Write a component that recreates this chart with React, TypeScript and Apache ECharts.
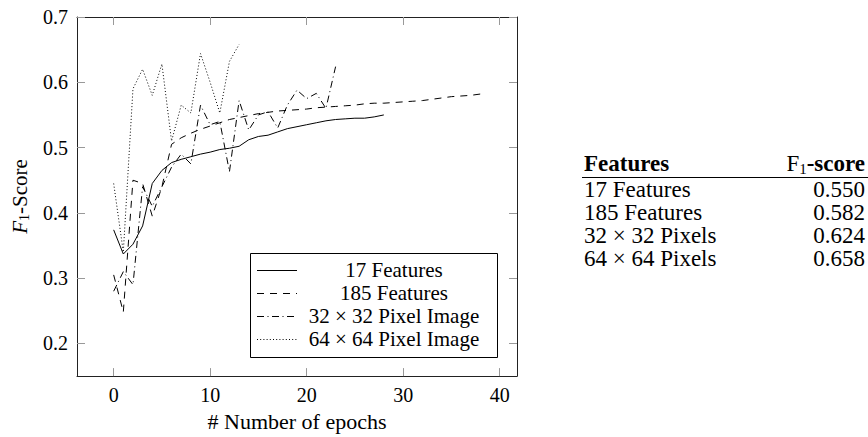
import React, { useEffect, useRef } from "react";
import * as echarts from "echarts";

// ---- data ----
const f17 = [0.374, 0.337, 0.352, 0.38, 0.445, 0.465, 0.477, 0.482, 0.486, 0.49, 0.493, 0.497, 0.499, 0.502, 0.512, 0.517, 0.519, 0.524, 0.529, 0.532, 0.535, 0.538, 0.541, 0.543, 0.544, 0.545, 0.545, 0.547, 0.55];
const f185 = [0.305, 0.248, 0.45, 0.445, 0.395, 0.44, 0.505, 0.515, 0.522, 0.528, 0.533, 0.538, 0.543, 0.546, 0.549, 0.552, 0.554, 0.556, 0.557, 0.558, 0.559, 0.561, 0.562, 0.563, 0.564, 0.565, 0.567, 0.568, 0.568, 0.569, 0.57, 0.571, 0.572, 0.574, 0.576, 0.578, 0.579, 0.58, 0.582];
const px32 = [0.28, 0.31, 0.29, 0.44, 0.41, 0.44, 0.47, 0.49, 0.475, 0.565, 0.535, 0.54, 0.463, 0.572, 0.527, 0.55, 0.555, 0.53, 0.565, 0.588, 0.575, 0.583, 0.56, 0.624];
const px64 = [0.445, 0.34, 0.59, 0.62, 0.58, 0.628, 0.51, 0.565, 0.553, 0.644, 0.6, 0.553, 0.632, 0.658];

const seriesNames = ["17 Features", "185 Features", "32 \u00d7 32 Pixel Image", "64 \u00d7 64 Pixel Image"];
const xTicks = [0, 10, 20, 30, 40];
const yTicks = [0.2, 0.3, 0.4, 0.5, 0.6, 0.7];

const tableRows = ["17 Features", "185 Features", "32 \u00d7 32 Pixels", "64 \u00d7 64 Pixels"];
const tableScores = ["0.550", "0.582", "0.624", "0.658"];

const FONT = "Liberation Serif";
const DASHES: (number[] | "solid")[] = ["solid", [7, 6], [7, 3.5, 1, 3.5], [1, 2.2]];

function toPoints(arr: number[]) {
  return arr.map((v, i) => [i, v]);
}

export default function App() {
  const ref = useRef<HTMLDivElement>(null);
  useEffect(() => {
    if (!ref.current) return;
    const chart = echarts.init(ref.current, undefined, { renderer: "svg" });
    const allData = [f17, f185, px32, px64];

    const legendLeft = 250, legendTop = 253, legendW = 247, legendH = 104;
    const rowY = [270, 293, 316, 339];
    const graphics: any[] = [
      {
        type: "rect",
        z: 100,
        shape: { x: legendLeft + 0.5, y: legendTop + 0.5, width: legendW, height: legendH },
        style: { fill: "#fff", stroke: "#000", lineWidth: 1 },
      },
    ];
    seriesNames.forEach((n, i) => {
      const d = DASHES[i];
      graphics.push({
        type: "line",
        z: 101,
        shape: { x1: 257, y1: rowY[i] + 0.5, x2: 297, y2: rowY[i] + 0.5 },
        style: { stroke: "#000", lineWidth: 1, lineDash: d === "solid" ? null : d },
      });
      graphics.push({
        type: "text",
        z: 101,
        x: 394,
        y: rowY[i],
        style: { text: n, fontFamily: FONT, fontSize: 21, fill: "#000", textAlign: "center", textVerticalAlign: "middle" },
      });
    });

    // table
    const tLeft = 584, tRight = 865;
    graphics.push({
      type: "text",
      x: tLeft,
      y: 163,
      style: { text: "Features", fontFamily: FONT, fontSize: 23, fontWeight: "bold", fill: "#000", textAlign: "left", textVerticalAlign: "middle" },
    });
    graphics.push({
      type: "text",
      x: tRight,
      y: 163,
      style: {
        text: "{r|F}{s|1}{b|-score}",
        textAlign: "right",
        textVerticalAlign: "middle",
        fill: "#000",
        rich: {
          r: { fontFamily: FONT, fontSize: 23, fill: "#000", lineHeight: 26 },
          s: { fontFamily: FONT, fontSize: 15, fill: "#000", lineHeight: 16, verticalAlign: "bottom" },
          b: { fontFamily: FONT, fontSize: 23, fontWeight: "bold", fill: "#000", lineHeight: 26 },
        },
      },
    });
    graphics.push({
      type: "line",
      shape: { x1: 582, y1: 177.5, x2: 868, y2: 177.5 },
      style: { stroke: "#000", lineWidth: 1.2 },
    });
    tableRows.forEach((r, i) => {
      const y = 189 + i * 23;
      graphics.push({
        type: "text",
        x: tLeft,
        y,
        style: { text: r, fontFamily: FONT, fontSize: 23, fill: "#000", textAlign: "left", textVerticalAlign: "middle" },
      });
      graphics.push({
        type: "text",
        x: tRight,
        y,
        style: { text: tableScores[i], fontFamily: FONT, fontSize: 23, fill: "#000", textAlign: "right", textVerticalAlign: "middle" },
      });
    });

    const axisLine = { show: true, onZero: false, lineStyle: { color: "#222", width: 1 } };
    const tick = { show: true, inside: true, length: 8, lineStyle: { color: "#999", width: 1 } };

    chart.setOption({
      animation: false,
      backgroundColor: "#fff",
      textStyle: { fontFamily: FONT },
      grid: { left: 77, top: 17, right: 351, bottom: 54, containLabel: false },
      xAxis: [
        {
          type: "value",
          min: -3.8,
          max: 41.8,
          position: "bottom",
          axisLine,
          axisTick: { ...tick, customValues: xTicks },
          axisLabel: { customValues: xTicks, color: "#000", fontFamily: FONT, fontSize: 20, margin: 9 },
          splitLine: { show: false },
          name: "# Number of epochs",
          nameLocation: "middle",
          nameGap: 33,
          nameTextStyle: { color: "#000", fontFamily: FONT, fontSize: 22 },
        },
        {
          type: "value",
          min: -3.8,
          max: 41.8,
          position: "top",
          axisLine,
          axisTick: { ...tick, customValues: xTicks },
          axisLabel: { show: false },
          splitLine: { show: false },
        },
      ],
      yAxis: [
        {
          type: "value",
          min: 0.15,
          max: 0.7,
          position: "left",
          axisLine,
          axisTick: { ...tick, customValues: yTicks },
          axisLabel: {
            customValues: yTicks,
            color: "#000",
            fontFamily: FONT,
            fontSize: 20,
            margin: 9,
            formatter: (v: number) => v.toFixed(1),
          },
          splitLine: { show: false },
          name: "{i|F}{s|1}{r|-Score}",
          nameLocation: "middle",
          nameGap: 46,
          nameRotate: 90,
          nameTextStyle: {
            color: "#000",
            fontFamily: FONT,
            rich: {
              i: { fontFamily: FONT, fontSize: 21, fontStyle: "italic", color: "#000", lineHeight: 22 },
              s: { fontFamily: FONT, fontSize: 14, color: "#000", lineHeight: 14, verticalAlign: "bottom" },
              r: { fontFamily: FONT, fontSize: 21, color: "#000", lineHeight: 22 },
            },
          },
        },
        {
          type: "value",
          min: 0.15,
          max: 0.7,
          position: "right",
          axisLine,
          axisTick: { ...tick, customValues: yTicks },
          axisLabel: { show: false },
          splitLine: { show: false },
        },
      ],
      graphic: { elements: graphics },
      series: allData.map((arr, i) => ({
        name: seriesNames[i],
        type: "line",
        xAxisIndex: 0,
        yAxisIndex: 0,
        data: toPoints(arr),
        symbol: "none",
        silent: true,
        lineStyle: { color: "#000", width: 1, type: DASHES[i] },
      })),
    });
    return () => chart.dispose();
  }, []);
  return (
    <div
      ref={ref}
      style={{ position: "absolute", left: 0, top: 0, width: 868, height: 437, background: "#fff" }}
    />
  );
}
